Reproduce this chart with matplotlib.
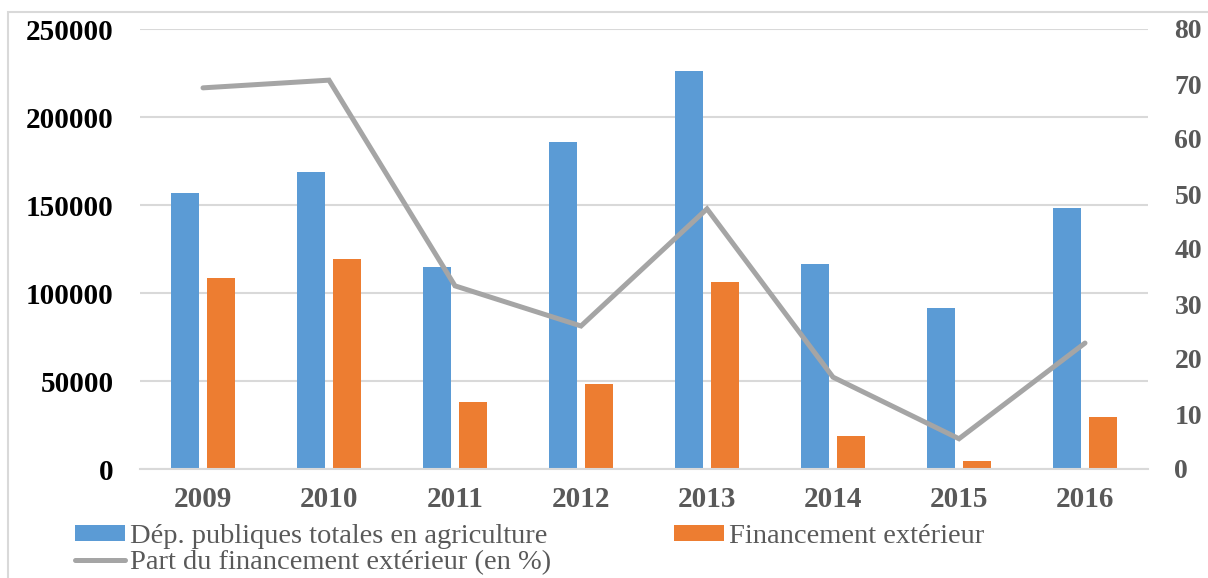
import matplotlib

matplotlib.use("Agg")
import matplotlib.pyplot as plt  # noqa: E402
import numpy as np  # noqa: E402
from matplotlib.patches import Rectangle  # noqa: E402

years = ["2009", "2010", "2011", "2012", "2013", "2014", "2015", "2016"]
dep_totales = [157000, 168700, 114600, 185800, 226100, 116500, 91500, 148300]
financement_ext = [108500, 119100, 38000, 48300, 106200, 18800, 4600, 29500]
part_ext = [69.3, 70.7, 33.3, 26.0, 47.3, 16.7, 5.5, 22.9]

BLUE = "#5B9BD5"
ORANGE = "#ED7D31"
GRAY_LINE = "#A5A5A5"
GRID = "#D9D9D9"
TEXT_GRAY = "#595959"

plt.rcParams["font.family"] = ["Liberation Serif", "DejaVu Serif"]

fig = plt.figure(figsize=(12.08, 5.78), dpi=100)
ax = fig.add_axes([140 / 1208, 1 - 469 / 578, 1008 / 1208, 440 / 578])

x = np.arange(len(years))
width = 0.226
offset = 0.143
b1 = ax.bar(x - offset, dep_totales, width, color=BLUE, zorder=2,
            label="Dép. publiques totales en agriculture")
b2 = ax.bar(x + offset, financement_ext, width, color=ORANGE, zorder=2,
            label="Financement extérieur")

ax.set_xlim(-0.5, len(years) - 0.5)
ax.set_ylim(0, 250000)
ax.set_yticks(range(0, 250001, 50000))
ax.grid(axis="y", color=GRID, linewidth=1.5, zorder=0)
ax.set_axisbelow(True)
for side in ("top", "right", "left"):
    ax.spines[side].set_visible(False)
ax.spines["bottom"].set_color(GRID)
ax.spines["bottom"].set_linewidth(1.5)
ax.tick_params(axis="both", length=0)
ax.tick_params(axis="y", pad=19, labelsize=21, labelcolor="black")
ax.tick_params(axis="x", pad=12, labelsize=21, labelcolor=TEXT_GRAY)
ax.set_xticks(x)
ax.set_xticklabels(years)
for lbl in ax.get_xticklabels() + ax.get_yticklabels():
    lbl.set_fontweight("bold")

ax2 = ax.twinx()
line, = ax2.plot(x, part_ext, color=GRAY_LINE, linewidth=3.6,
                 solid_capstyle="round", solid_joinstyle="miter", zorder=3,
                 label="Part du financement extérieur (en %)")
ax2.set_ylim(0, 80)
ax2.set_yticks(range(0, 81, 10))
for side in ("top", "right", "left", "bottom"):
    ax2.spines[side].set_visible(False)
ax2.tick_params(axis="y", length=0, pad=19, labelsize=20, labelcolor=TEXT_GRAY)
for lbl in ax2.get_yticklabels():
    lbl.set_fontweight("bold")

# column-major fill: [blue, line] in col 1, [orange] in col 2
fig.legend(
    handles=[b1, line, b2],
    loc="upper left",
    bbox_to_anchor=(64 / 1208, 1 - 513 / 578),
    ncol=2,
    frameon=False,
    fontsize=20.5,
    labelcolor=TEXT_GRAY,
    handlelength=1.75,
    handleheight=0.5,
    handletextpad=0.18,
    columnspacing=4.3,
    labelspacing=0.02,
    borderaxespad=0,
)

fig.patches.append(
    Rectangle((8 / 1208, -0.2), 1.2, 1.2 - 12 / 578, transform=fig.transFigure,
              fill=False, edgecolor=GRID, linewidth=1.5, zorder=0)
)

fig.savefig("out.png", dpi=100)
